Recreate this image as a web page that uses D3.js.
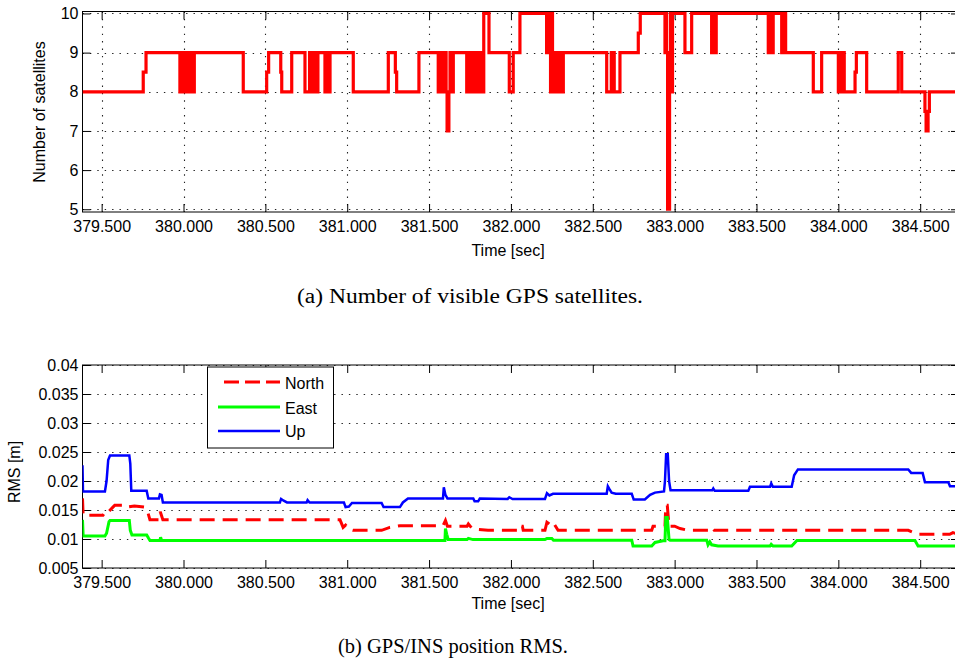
<!DOCTYPE html>
<html><head><meta charset="utf-8">
<script src="https://cdn.jsdelivr.net/npm/d3@7"></script>
<style>body{margin:0;background:#fff}svg{display:block}</style>
</head><body>
<svg id="c" width="955" height="670"></svg>
<script>
// ---------- data ----------
const timeTicks = [379.5, 380.0, 380.5, 381.0, 381.5, 382.0, 382.5, 383.0, 383.5, 384.0, 384.5];
const satTicks = [5, 6, 7, 8, 9, 10];
const rmsTicks = [0.005, 0.01, 0.015, 0.02, 0.025, 0.03, 0.035, 0.04];
const timeDomain = [379.383, 384.737];

// number of satellites: change times and the count held from that time on
const satTime = [
  379.383, 379.754, 379.771,
  379.978, 379.984, 379.990, 379.996, 380.002, 380.008, 380.014, 380.020, 380.026, 380.032, 380.038, 380.044, 380.050, 380.056, 380.061, 380.066,
  380.365, 380.508, 380.520, 380.594, 380.600, 380.661,
  380.742, 380.770, 380.776, 380.782, 380.788, 380.796, 380.802, 380.810, 380.815, 380.821,
  380.864, 380.870, 380.876, 380.882, 380.888, 380.895,
  381.037, 381.251, 381.294, 381.302, 381.438,
  381.556, 381.562, 381.568, 381.574, 381.580, 381.586, 381.592, 381.598, 381.604, 381.610, 381.621, 381.628, 381.634, 381.640, 381.648,
  381.730, 381.736, 381.742, 381.748, 381.754, 381.760, 381.766, 381.772, 381.778, 381.784, 381.790, 381.796, 381.802, 381.808, 381.818, 381.824, 381.830, 381.834, 381.866,
  381.990, 382.014, 382.055,
  382.218, 382.224, 382.230, 382.236, 382.242, 382.248, 382.254, 382.260, 382.266, 382.272, 382.278, 382.284, 382.290, 382.296, 382.302, 382.308, 382.314, 382.320,
  382.585, 382.613, 382.619, 382.625, 382.631, 382.666,
  382.778, 382.790,
  382.941, 382.946, 382.951, 382.957, 382.969, 382.975, 382.981, 382.987,
  383.063, 383.104,
  383.226, 383.232, 383.238, 383.244, 383.248, 383.254,
  383.572, 383.578, 383.584, 383.590, 383.596, 383.602,
  383.654, 383.660, 383.666, 383.672, 383.678,
  383.847, 383.898,
  384.000, 384.006, 384.012, 384.018, 384.024, 384.030, 384.036,
  384.102, 384.110, 384.173, 384.366, 384.387,
  384.529, 384.536, 384.548, 384.556, 384.737
];
const satCount = [
  8, 8.5, 9,
  8, 9, 8, 9, 8, 9, 8, 9, 8, 9, 8, 9, 8, 9, 8, 9,
  8, 8.5, 9, 8.5, 8, 9,
  8, 9, 8, 9, 8, 9, 8, 9, 8, 9,
  8, 9, 8, 9, 8, 9,
  8, 9, 8.5, 8, 9,
  8, 9, 8, 9, 8, 9, 8, 9, 8, 7, 8, 9, 8, 8, 9,
  8, 9, 8, 9, 8, 9, 8, 9, 8, 9, 8, 9, 8, 9, 8, 9, 8, 10, 9,
  8, 9, 10,
  9, 10, 9, 10, 8, 10, 8, 9, 8, 9, 8, 9, 8, 9, 8, 9, 8, 9,
  8, 9, 8, 9, 8, 9,
  9.5, 10,
  9, 10, 9, 5, 8, 10, 8, 10,
  9, 10,
  9, 10, 9, 10, 9, 10,
  9, 10, 9, 10, 9, 10,
  9, 10, 9, 10, 9,
  8, 9,
  8, 9, 8, 9, 8, 9, 8,
  8.5, 9, 8, 9, 8,
  7.5, 7, 7.5, 8, 8
];

// RMS series [time, metres]
const northData = [
  [379.383, 0.0170], [379.387, 0.0141], [379.508, 0.0141], [379.530, 0.0150], [379.545, 0.0148], [379.569, 0.0155],
  [379.580, 0.0158], [379.640, 0.0158], [379.650, 0.0155], [379.700, 0.0157], [379.760, 0.0155], [379.780, 0.0148],
  [379.795, 0.0133], [379.850, 0.0133], [379.858, 0.0147], [379.866, 0.0140], [379.874, 0.0133], [380.956, 0.0133],
  [380.975, 0.0120], [380.990, 0.0124], [381.010, 0.0117], [381.035, 0.0115], [381.210, 0.0115], [381.260, 0.0120],
  [381.322, 0.0123], [381.585, 0.0123], [381.600, 0.0132], [381.612, 0.0122], [381.732, 0.0122], [381.740, 0.0126],
  [381.760, 0.0119], [381.780, 0.0117], [381.860, 0.0115], [382.040, 0.0115], [382.045, 0.0122], [382.070, 0.0122],
  [382.075, 0.0115], [382.208, 0.0115], [382.220, 0.0129], [382.240, 0.0125], [382.257, 0.0129], [382.288, 0.0115],
  [382.860, 0.0115], [382.868, 0.0122], [382.941, 0.0122], [382.946, 0.0158], [382.955, 0.0158], [382.966, 0.0122],
  [383.000, 0.0122], [383.033, 0.0118], [383.081, 0.0115], [383.226, 0.0115], [383.232, 0.0119], [383.242, 0.0115],
  [384.427, 0.0115], [384.487, 0.0108], [384.680, 0.0108], [384.700, 0.0111], [384.737, 0.0108]
];
const eastData = [
  [379.383, 0.0133], [379.387, 0.0105], [379.520, 0.0105], [379.530, 0.0110], [379.545, 0.0130], [379.551, 0.0132],
  [379.669, 0.0132], [379.675, 0.0115], [379.685, 0.0107], [379.775, 0.0107], [379.785, 0.0102], [379.795, 0.00975],
  [379.856, 0.00975], [379.860, 0.0103], [379.866, 0.00975], [381.597, 0.00975], [381.600, 0.0118], [381.608, 0.0108],
  [381.617, 0.0099], [381.732, 0.0099], [381.740, 0.0101], [381.768, 0.0099], [382.208, 0.0099], [382.220, 0.0101],
  [382.250, 0.0101], [382.260, 0.0098], [382.738, 0.0098], [382.746, 0.0088], [382.860, 0.0088], [382.880, 0.0094],
  [382.929, 0.0097], [382.941, 0.0097], [382.946, 0.0137], [382.955, 0.0137], [382.966, 0.0099], [382.972, 0.0098],
  [383.196, 0.0098], [383.204, 0.0090], [383.215, 0.0095], [383.226, 0.0090], [383.265, 0.0088], [383.583, 0.0088],
  [383.590, 0.0091], [383.601, 0.0088], [383.715, 0.0088], [383.747, 0.00975], [384.468, 0.00975], [384.487, 0.0088],
  [384.737, 0.0088]
];
const upData = [
  [379.383, 0.0227], [379.386, 0.0182], [379.520, 0.0182], [379.530, 0.0200], [379.540, 0.0236], [379.551, 0.0244],
  [379.669, 0.0244], [379.675, 0.0230], [379.681, 0.0183], [379.775, 0.0183], [379.785, 0.0170], [379.850, 0.0170],
  [379.856, 0.0177], [379.866, 0.0176], [379.874, 0.0163], [380.589, 0.0163], [380.596, 0.0169], [380.612, 0.0166],
  [380.632, 0.0163], [380.752, 0.0163], [380.758, 0.0167], [380.770, 0.0163], [380.980, 0.0163], [380.990, 0.0155],
  [381.010, 0.0156], [381.029, 0.0162], [381.210, 0.0162], [381.222, 0.0155], [381.322, 0.0155], [381.340, 0.0163],
  [381.371, 0.0170], [381.585, 0.0170], [381.590, 0.0189], [381.600, 0.0176], [381.612, 0.0170], [381.770, 0.0170],
  [381.778, 0.0165], [381.800, 0.0165], [381.810, 0.0170], [381.980, 0.0169], [381.990, 0.0172], [382.010, 0.0169],
  [382.208, 0.0169], [382.220, 0.0179], [382.235, 0.0175], [382.257, 0.0178], [382.585, 0.0178], [382.592, 0.0191],
  [382.600, 0.0187], [382.615, 0.0180], [382.640, 0.0178], [382.738, 0.0178], [382.750, 0.0168], [382.818, 0.0168],
  [382.850, 0.0176], [382.880, 0.0180], [382.935, 0.0182], [382.941, 0.0200], [382.948, 0.0246], [382.958, 0.0246],
  [382.966, 0.0200], [382.975, 0.0184], [383.230, 0.0184], [383.236, 0.0187], [383.245, 0.0183], [383.450, 0.0183],
  [383.460, 0.0190], [383.583, 0.0190], [383.590, 0.0196], [383.600, 0.0190], [383.715, 0.0190], [383.730, 0.0210],
  [383.753, 0.0220], [384.427, 0.0220], [384.445, 0.0214], [384.515, 0.0214], [384.529, 0.0198], [384.672, 0.0198],
  [384.682, 0.0191], [384.737, 0.0191]
];

const legendLabels = ["North", "East", "Up"];
const seriesColors = ["#ff0000", "#00ff00", "#0000ff"];
const captions = ["(a) Number of visible GPS satellites.", "(b) GPS/INS position RMS."];
const axisTitles = ["Number of satellites", "RMS [m]", "Time [sec]"];

// ---------- drawing ----------
const svg = d3.select("#c");
const FONT = "'Liberation Sans', Arial, Helvetica, sans-serif";
const L = 82.5, R = 959;

function panel(yTop, yBot, yDomain, yTicks, yFmt, vGrid, id) {
  const x = d3.scaleLinear().domain(timeDomain).range([L, R]);
  const y = d3.scaleLinear().domain(yDomain).range([yBot, yTop]);
  const g = svg.append("g");
  g.append("clipPath").attr("id", id).append("rect")
    .attr("x", L).attr("y", yTop).attr("width", R - L).attr("height", yBot - yTop);
  const grid = g.append("g").attr("stroke", "#222").attr("stroke-width", 1.1)
    .attr("stroke-dasharray", "1.4,6").attr("fill", "none");
  grid.selectAll("line.h").data(yTicks).join("line").attr("class", "h")
    .attr("x1", L).attr("x2", R).attr("y1", d => Math.round(y(d)) + 0.5).attr("y2", d => Math.round(y(d)) + 0.5);
  if (vGrid) {
    grid.selectAll("line.v").data(timeTicks).join("line").attr("class", "v")
      .attr("y1", yTop).attr("y2", yBot).attr("x1", d => Math.round(x(d)) + 0.5).attr("x2", d => Math.round(x(d)) + 0.5);
  }
  const style = a => {
    a.select(".domain").remove();
    a.selectAll("line").attr("stroke", "#000");
    a.selectAll("text").attr("font-family", FONT).attr("font-size", 16).attr("fill", "#000");
  };
  g.append("g").attr("transform", `translate(0,${yBot})`)
    .call(d3.axisBottom(x).tickValues(timeTicks).tickFormat(d3.format(".3f")).tickSizeInner(-8).tickSizeOuter(0).tickPadding(9)).call(style);
  g.append("g").attr("transform", `translate(0,${yTop})`)
    .call(d3.axisTop(x).tickValues(timeTicks).tickFormat("").tickSizeInner(-8).tickSizeOuter(0)).call(style);
  g.append("g").attr("transform", `translate(${L},0)`)
    .call(d3.axisLeft(y).tickValues(yTicks).tickFormat(yFmt).tickSizeInner(-8).tickSizeOuter(0).tickPadding(4)).call(style);
  g.append("g").attr("transform", `translate(${R},0)`)
    .call(d3.axisRight(y).tickValues(yTicks).tickFormat("").tickSizeInner(-8).tickSizeOuter(0)).call(style);
  g.append("rect").attr("x", L).attr("y", yTop).attr("width", R - L).attr("height", yBot - yTop)
    .attr("fill", "none").attr("stroke", "#000").attr("stroke-width", 1);
  return { x, y, g };
}

// ---- panel (a)
const A = panel(11.5, 212, [4.93, 10.05], satTicks, d3.format("d"), true, "clipA");
const satPts = satTime.map((t, i) => [t, satCount[i]]);
A.g.append("path").datum(satPts)
  .attr("clip-path", "url(#clipA)")
  .attr("d", d3.line().x(d => A.x(d[0])).y(d => A.y(d[1])).curve(d3.curveStepAfter))
  .attr("fill", "none").attr("stroke", "#ff0000").attr("stroke-width", 3.2).attr("stroke-linejoin", "miter");
svg.append("text").attr("transform", "translate(45,112) rotate(-90)").attr("text-anchor", "middle")
  .attr("font-family", FONT).attr("font-size", 16).text(axisTitles[0]);
svg.append("text").attr("x", 508).attr("y", 256).attr("text-anchor", "middle")
  .attr("font-family", FONT).attr("font-size", 16).text(axisTitles[2]);
svg.append("text").attr("x", 297).attr("y", 303).attr("textLength", 346).attr("lengthAdjust", "spacingAndGlyphs")
  .attr("font-family", "'Liberation Serif', 'Times New Roman', serif").attr("font-size", 20).text(captions[0]);

// ---- panel (b)
const B = panel(365, 568, [0.005, 0.04], rmsTicks, d => d3.format("")(+d.toFixed(3)), false, "clipB");
const rmsLine = d3.line().x(d => B.x(d[0])).y(d => B.y(d[1]));
const series = [northData, eastData, upData];
series.forEach((s, i) => {
  B.g.append("path").datum(s).attr("clip-path", "url(#clipB)").attr("d", rmsLine)
    .attr("fill", "none").attr("stroke", seriesColors[i])
    .attr("stroke-width", i === 2 ? 2.5 : 3)
    .attr("stroke-dasharray", i === 0 ? "15,8" : null);
});
// legend
const lg = svg.append("g");
lg.append("rect").attr("x", 207.5).attr("y", 367).attr("width", 126).attr("height", 81)
  .attr("fill", "#fff").attr("stroke", "#000").attr("stroke-width", 1);
const legY = [382, 407, 431];
const legTextY = [389, 414, 437];
legendLabels.forEach((name, i) => {
  lg.append("line").attr("x1", i === 0 ? 224 : 218).attr("x2", 280).attr("y1", legY[i]).attr("y2", legY[i])
    .attr("stroke", seriesColors[i]).attr("stroke-width", i === 2 ? 2.5 : 3)
    .attr("stroke-dasharray", i === 0 ? "15,6" : null);
  lg.append("text").attr("x", 285).attr("y", legTextY[i]).attr("font-family", FONT).attr("font-size", 16).text(name);
});
svg.append("text").attr("transform", "translate(20,472) rotate(-90)").attr("text-anchor", "middle")
  .attr("font-family", FONT).attr("font-size", 16).text(axisTitles[1]);
svg.append("text").attr("x", 508).attr("y", 609).attr("text-anchor", "middle")
  .attr("font-family", FONT).attr("font-size", 16).text(axisTitles[2]);
svg.append("text").attr("x", 338).attr("y", 653).attr("textLength", 230).attr("lengthAdjust", "spacingAndGlyphs")
  .attr("font-family", "'Liberation Serif', 'Times New Roman', serif").attr("font-size", 20).text(captions[1]);
</script>
</body></html>
